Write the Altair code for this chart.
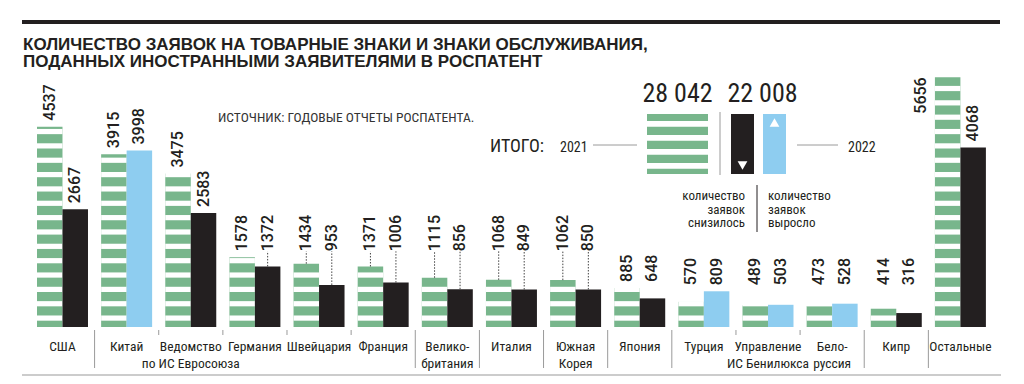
import altair as alt
import pandas as pd

# ---------------- data ----------------
categories = ["США", "Китай", "Ведомство\nпо ИС Евросоюза", "Германия", "Швейцария",
              "Франция", "Велико-\nбритания", "Италия", "Южная\nКорея", "Япония",
              "Турция", "Управление\nИС Бенилюкса", "Бело-\nруссия", "Кипр", "Остальные"]
v2021 = [4537, 3915, 3475, 1578, 1434, 1371, 1115, 1068, 1062, 885, 570, 489, 473, 414, 5656]
v2022 = [2667, 3998, 2583, 1372, 953, 1006, 856, 849, 850, 648, 809, 503, 528, 316, 4068]
years = ["2021", "2022"]
total_2021 = "28 042"
total_2022 = "22 008"
title_text = "КОЛИЧЕСТВО ЗАЯВОК НА ТОВАРНЫЕ ЗНАКИ И ЗНАКИ ОБСЛУЖИВАНИЯ,\nПОДАННЫХ ИНОСТРАННЫМИ ЗАЯВИТЕЛЯМИ В РОСПАТЕНТ"
source_text = "ИСТОЧНИК: ГОДОВЫЕ ОТЧЕТЫ РОСПАТЕНТА."
legend_down = "количество\nзаявок\nснизилось"
legend_up = "количество\nзаявок\nвыросло"

# label grouping (labels of a group share one level)
label_group = ["US", "CN", "EU", "G", "G", "G", "G", "G", "G", "JP", "T", "T", "T", "T", "REST"]
shared_groups = ["G", "JP", "T"]
leader_groups = ["G"]
side_label_cat = "Остальные"
separator_full = [True, False, False, False, False, True, True, True, True, True,
                  False, False, True, True]

# ---------------- style ----------------
GREEN = "#78b68c"
DARK = "#231f20"
BLUE = "#8ecdf0"
GRAY = "#9a9a9a"
NARROW = "Liberation Sans Narrow, Roboto Condensed, Liberation Sans, sans-serif"
W, H = 1008, 368
STRIPE_PHASE, STRIPE_PERIOD, STRIPE_GAP = 143, 325, 118

# ---------------- tables ----------------
gmax = {}
for i, g in enumerate(label_group):
    gmax[g] = max(gmax.get(g, 0), v2021[i], v2022[i])

rows = []
for i, c in enumerate(categories):
    for yr, v in (("2021", v2021[i]), ("2022", v2022[i])):
        kind = "2021" if yr == "2021" else ("up" if v2022[i] > v2021[i] else "down")
        g = label_group[i]
        level = gmax[g] if g in shared_groups else v
        rows.append(dict(cat=c, year=yr, value=v, kind=kind, level=level,
                         leader=(g in leader_groups and level > v),
                         side=(c == side_label_cat and yr == "2021")))
df = pd.DataFrame(rows)

stripes = []
for i, c in enumerate(categories):
    k = 0
    while STRIPE_PHASE + k * STRIPE_PERIOD < v2021[i]:
        y0 = STRIPE_PHASE + k * STRIPE_PERIOD
        stripes.append(dict(cat=c, year="2021", y0=y0, y1=y0 + STRIPE_GAP))
        k += 1
df_stripes = pd.DataFrame(stripes)

df_sep = pd.DataFrame({"cat": categories[:-1], "full": separator_full})
one = pd.DataFrame({"a": [0]})

xs = alt.Scale(domain=categories, range=[29, 977.9], paddingInner=0.205, paddingOuter=0)
ys = alt.Scale(domain=[0, 6000], range=[319, 54.1], nice=False, zero=True)
X = alt.X("cat:N", sort=categories, scale=xs, axis=None)
XO = alt.XOffset("year:N", sort=years, scale=alt.Scale(domain=years))

base = alt.Chart(df)

green = base.transform_filter("datum.year == '2021'").mark_bar(color=GREEN).encode(
    x=X, xOffset=XO, y=alt.Y("value:Q", scale=ys, axis=None))

stripe_layer = alt.Chart(df_stripes).mark_bar(color="white").encode(
    x=X, xOffset=XO, y=alt.Y("y0:Q", scale=ys, axis=None), y2="y1:Q")

new_bars = base.transform_filter("datum.year == '2022'").mark_bar().encode(
    x=X, xOffset=XO, y=alt.Y("value:Q", scale=ys, axis=None),
    color=alt.Color("kind:N", scale=alt.Scale(domain=["2021", "down", "up"],
                                               range=[GREEN, DARK, BLUE]), legend=None))

leaders = base.transform_filter("datum.leader").mark_rule(
    color="#444444", strokeWidth=1, strokeDash=[1.5, 1.5], y2Offset=-6).encode(
    x=X, xOffset=XO, y=alt.Y("value:Q", scale=ys, axis=None), y2="level:Q")

labels = base.transform_filter("!datum.side").mark_text(
    font="Roboto", fontWeight=500, fontSize=16, angle=270, align="left",
    baseline="middle", dx=6, color=DARK).encode(
    x=X, xOffset=XO, y=alt.Y("level:Q", scale=ys, axis=None), text="value:Q")

side_labels = base.transform_filter("datum.side").mark_text(
    font="Roboto", fontWeight=500, fontSize=16, angle=270, align="right",
    baseline="middle", dy=-27, color=DARK).encode(
    x=X, xOffset=XO, y=alt.Y("value:Q", scale=ys, axis=None), text="value:Q")

cat_labels = alt.Chart(pd.DataFrame({"cat": categories})).mark_text(
    font=NARROW, fontSize=13.5, color=DARK, align="center", baseline="alphabetic",
    lineBreak="\n", lineHeight=16.5).encode(x=X, y=alt.value(343), text="cat:N")

sep_full = alt.Chart(df_sep).transform_filter("datum.full").mark_rule(
    color=GRAY, strokeWidth=1, xOffset=6.6).encode(
    x=alt.X("cat:N", sort=categories, scale=xs, axis=None, bandPosition=1),
    y=alt.value(322), y2=alt.value(360))
sep_short = alt.Chart(df_sep).transform_filter("!datum.full").mark_rule(
    color=GRAY, strokeWidth=1, xOffset=6.6).encode(
    x=alt.X("cat:N", sort=categories, scale=xs, axis=None, bandPosition=1),
    y=alt.value(322), y2=alt.value(327))

o = alt.Chart(one)
top_rule = o.mark_rule(color=DARK, strokeWidth=4).encode(
    x=alt.value(14), x2=alt.value(992), y=alt.value(14))
bottom_rule = o.mark_rule(color="#bbbbbb", strokeWidth=1.5).encode(
    x=alt.value(14), x2=alt.value(993), y=alt.value(367))
title = o.mark_text(font="Liberation Sans", fontWeight="bold", fontSize=17, color=DARK,
                    align="left", baseline="alphabetic", lineBreak="\n", lineHeight=17.5).encode(
    x=alt.value(15), y=alt.value(41.5), text=alt.value(title_text))
source = o.mark_text(font=NARROW, fontSize=13.5, color="#333333", align="left",
                     baseline="alphabetic").encode(
    x=alt.value(210), y=alt.value(113.5), text=alt.value(source_text))

# legend
big1 = o.mark_text(font=NARROW, fontSize=26, color=DARK, align="center",
                   baseline="alphabetic").encode(x=alt.value(669.5), y=alt.value(94),
                                                 text=alt.value(total_2021))
big2 = o.mark_text(font=NARROW, fontSize=26, color=DARK, align="center",
                   baseline="alphabetic").encode(x=alt.value(754.5), y=alt.value(94),
                                                 text=alt.value(total_2022))
lg_green = o.mark_rect(color=GREEN).encode(x=alt.value(639), x2=alt.value(700),
                                           y=alt.value(106), y2=alt.value(166))
lg_white = [o.mark_rect(color="white").encode(x=alt.value(639), x2=alt.value(700),
                                              y=alt.value(113 + 14 * k),
                                              y2=alt.value(118.8 + 14 * k)) for k in range(4)]
lg_dark = o.mark_rect(color=DARK).encode(x=alt.value(723), x2=alt.value(746),
                                         y=alt.value(106), y2=alt.value(166))
lg_blue = o.mark_rect(color=BLUE).encode(x=alt.value(755), x2=alt.value(778),
                                         y=alt.value(106), y2=alt.value(166))
tri_down = o.mark_point(shape="triangle-down", filled=True, color="white", opacity=1,
                        size=95).encode(x=alt.value(734.5), y=alt.value(157.5))
tri_up = o.mark_point(shape="triangle-up", filled=True, color="white", opacity=1,
                      size=95).encode(x=alt.value(766.5), y=alt.value(114.5))
lg_div = o.mark_rule(color=GRAY, strokeWidth=1).encode(x=alt.value(712), y=alt.value(104),
                                                      y2=alt.value(167))
itogo = o.mark_text(font=NARROW, fontSize=18, color=DARK, align="left",
                    baseline="alphabetic").encode(x=alt.value(482), y=alt.value(144),
                                                  text=alt.value("ИТОГО:"))
y21 = o.mark_text(font=NARROW, fontSize=14, color=DARK, align="left",
                  baseline="alphabetic").encode(x=alt.value(552), y=alt.value(144),
                                                text=alt.value("2021"))
y22 = o.mark_text(font=NARROW, fontSize=14, color=DARK, align="left",
                  baseline="alphabetic").encode(x=alt.value(840), y=alt.value(144),
                                                text=alt.value("2022"))
line21 = o.mark_rule(color=GRAY, strokeWidth=1).encode(x=alt.value(585), x2=alt.value(629),
                                                      y=alt.value(137))
line22 = o.mark_rule(color=GRAY, strokeWidth=1).encode(x=alt.value(789), x2=alt.value(830),
                                                      y=alt.value(137))
txt_down = o.mark_text(font=NARROW, fontSize=13, color=DARK, align="right",
                       baseline="alphabetic", lineBreak="\n", lineHeight=13.7).encode(
    x=alt.value(737), y=alt.value(192), text=alt.value(legend_down))
txt_up = o.mark_text(font=NARROW, fontSize=13, color=DARK, align="left",
                     baseline="alphabetic", lineBreak="\n", lineHeight=13.7).encode(
    x=alt.value(760), y=alt.value(192), text=alt.value(legend_up))
txt_div = o.mark_rule(color=DARK, strokeWidth=1).encode(x=alt.value(749), y=alt.value(177),
                                                       y2=alt.value(224))

chart = alt.layer(
    green, stripe_layer, new_bars, leaders, labels, side_labels, cat_labels,
    sep_full, sep_short, top_rule, bottom_rule, title, source,
    big1, big2, lg_green, *lg_white, lg_dark, lg_blue, tri_down, tri_up, lg_div,
    itogo, y21, y22, line21, line22, txt_down, txt_up, txt_div
).properties(
    width=W, height=H, padding=0, background="white",
    autosize=alt.AutoSizeParams(type="none")
).configure_view(stroke=None)

chart.save("out.html", embed_options={"renderer": "svg", "actions": False})
